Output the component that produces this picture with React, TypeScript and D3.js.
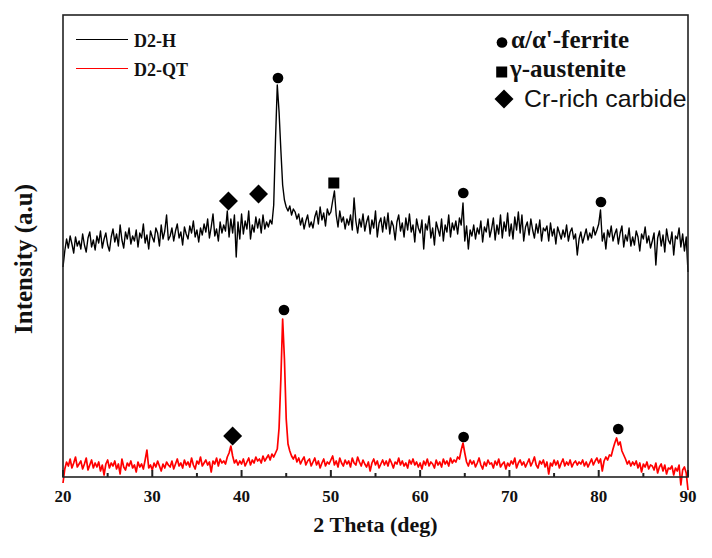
import * as d3 from 'd3';

// XRD scan grid: 20–90 deg, 0.2 deg step
const thetaStart = 20;
const thetaStep = 0.2;

// D2-H intensity (a.u.), one row = 2 deg
const d2H = [
  210, 226, 238, 229, 241, 233, 224, 240, 231, 236,
  228, 243, 232, 225, 239, 245, 230, 237, 227, 241,
  234, 246, 229, 238, 244, 232, 226, 240, 248, 235,
  243, 231, 252, 237, 229, 245, 238, 249, 233, 241,
  236, 247, 230, 244, 239, 253, 234, 242, 228, 246,
  240, 235, 249, 244, 231, 252, 238, 246, 262, 237,
  241, 249, 236, 246, 253, 239, 245, 232, 250, 243,
  238, 251, 244, 256, 240, 247, 235, 249, 242, 253,
  245, 258, 239, 250, 263, 241, 248, 236, 255, 244,
  252, 246, 266, 240, 258, 244, 262, 220, 255, 238,
  263, 243, 256, 248, 266, 238, 252, 245, 260, 249,
  258, 244, 262, 248, 255, 250, 257, 253, 272, 337,
  392, 365, 327, 292, 277, 270, 266, 271, 262, 268,
  265, 258, 263, 252, 259, 248, 256, 262, 250, 255,
  249, 260, 266, 253, 270, 257, 264, 251, 268, 262,
  265, 276, 286, 262, 250, 266, 255, 260, 248, 258,
  252, 262, 247, 279, 256, 244, 258, 250, 263, 246,
  255, 261, 243, 257, 249, 266, 240, 254, 259, 245,
  260, 248, 264, 243, 256, 251, 237, 255, 262, 246,
  254, 240, 259, 247, 263, 245, 252, 235, 258, 249,
  244, 257, 228, 253, 247, 261, 239, 249, 232, 255,
  248, 241, 258, 236, 252, 245, 262, 240, 254, 247,
  256, 243, 259, 252, 274, 236, 251, 228, 247, 241,
  252, 238, 249, 243, 256, 235, 250, 245, 258, 240,
  248, 259, 237, 252, 243, 262, 239, 255, 246, 264,
  241, 253, 238, 260, 247, 265, 244, 262, 236, 250,
  255, 242, 258, 247, 239, 253, 244, 257, 236, 249,
  246, 251, 236, 254, 241, 248, 233, 250, 244, 238,
  247, 240, 252, 236, 245, 249, 238, 243, 222, 238,
  245, 234, 241, 248, 237, 244, 239, 250, 242, 247,
  253, 267, 236, 244, 228, 247, 240, 251, 236, 243,
  248, 233, 244, 251, 230, 242, 236, 249, 231, 240,
  232, 246, 240, 226, 243, 238, 250, 234, 241, 229,
  236, 244, 212, 239, 246, 231, 242, 225, 248, 237,
  233, 245, 222, 241, 238, 249, 230, 243, 226, 240,
  205,
];

// D2-QT intensity (a.u.)
const d2QT = [
  -6, 8, 15, 11, 18, 9, 14, 20, 10, 13,
  16, 8, 13, 19, 7, 12, 17, 9, 14, 10,
  15, 6, 12, 2, 13, 17, 9, 14, 11, 16,
  8, 13, 3, 18, 10, 7, 14, 11, 16, 9,
  12, 5, 15, 10, 13, 8, 17, 27, 9, 12,
  7, 14, 10, 16, 11, 6, 13, 9, 15, 12,
  10, 16, 8, 13, 18, 11, 14, 9, 17, 12,
  15, 10, 19, 12, 8, 16, 13, 20, 11, 14,
  17, 12, 15, 5, 16, 13, 19, 11, 18, 14,
  16, 13, 20, 24, 31, 21, 14, 17, 12, 16,
  13, 18, 11, 15, 19, 12, 17, 14, 20, 16,
  18, 14, 21, 16, 19, 22, 17, 23, 20, 24,
  28, 49, 98, 158, 118, 58, 33, 26, 21, 18,
  22, 15, 19, 13, 17, 20, 12, 16, 18, 11,
  15, 19, 12, 16, 9, 14, 18, 11, 15, 13,
  17, 21, 12, 16, 10, 19, 14, 11, 17, 13,
  16, 10, 19, 14, 12, 20, 15, 11, 17, 13,
  10, 15, 6, 14, 18, 12, 16, 9, 13, 17,
  12, 16, 11, 18, 14, 9, 15, 13, 19, 12,
  16, 11, 14, 9, 17, 13, 18, 12, 15, 10,
  14, 8, 16, 12, 18, 11, 15, 13, 9, 17,
  12, 15, 10, 18, 13, 16, 11, 19, 14, 17,
  15, 20, 18, 27, 34, 24, 15, 11, 17, 13,
  16, 10, 14, 19, 12, 8, 15, 11, 17, 13,
  14, 9, 16, 12, 18, 10, 13, 15, 8, 14,
  11, 16, 13, 19, 9, 14, 17, 12, 15, 10,
  14, 18, 11, 15, 20, 12, 9, 16, 13, 17,
  10, 15, 3, 14, 11, 17, 12, 16, 9, 14,
  18, 11, 15, 12, 17, 10, 14, 16, 12, 15,
  13, 17, 11, 15, 10, 14, 18, 12, 16, 19,
  14, 18, 6, 16, 20, 17, 22, 21, 28, 34,
  39, 32, 35, 26, 22, 18, 13, 16, 11, 15,
  12, 16, 9, 14, 5, 13, 10, 15, 8, 12,
  11, 7, 14, 4, 10, 13, 6, 12, 3, 9,
  8, 11, 2, 9, 6, 12, -8, 7, 10, 4,
  -13,
];

const seriesNames = ['D2-H', 'D2-QT'];
const seriesColors = ['#000000', '#ff0000'];
const seriesWidths = [1.4, 1.7];

// peak marks: [2theta, intensity]
const ferriteMarks = [[44.08, 399], [64.83, 284], [80.25, 275], [44.75, 167], [64.87, 40], [82.19, 48]];
const austeniteMarks = [[50.33, 294]];
const carbideMarks = [[38.53, 276], [41.9, 283], [39.0, 41]];

const phaseNames = ["α/α'-ferrite", 'γ-austenite', 'Cr-rich carbide'];

const xTicks = [20, 30, 40, 50, 60, 70, 80, 90];
const xMinorTicks = [25, 35, 45, 55, 65, 75, 85];

const width = 712;
const height = 558;
const margin = { top: 15, right: 24, bottom: 81, left: 63 };
const innerW = width - margin.left - margin.right;
const innerH = height - margin.top - margin.bottom;

const serif = '"Liberation Serif", "Times New Roman", serif';
const sans = '"Liberation Sans", Arial, sans-serif';

export default function App() {
  const x = d3.scaleLinear().domain([20, 90]).range([0, innerW]);
  const y = d3.scaleLinear().domain([0, 462]).range([innerH, 0]);

  const line = d3
    .line<number>()
    .x((_, i) => x(thetaStart + i * thetaStep))
    .y((d) => y(d));

  const circle = d3.symbol(d3.symbolCircle, 90)();
  const square = d3.symbol(d3.symbolSquare, 121)();
  const diamond = d3.symbol(d3.symbolSquare, 180)();

  return (
    <div style={{ position: 'absolute', left: 0, top: 0, background: '#fff' }}>
      <svg width={width} height={height} style={{ display: 'block' }}>
        <rect width={width} height={height} fill="#fff" />
        <g transform={`translate(${margin.left},${margin.top})`}>
          {[d2H, d2QT].map((s, k) => (
            <path
              key={k}
              d={line(s) ?? ''}
              fill="none"
              stroke={seriesColors[k]}
              strokeWidth={seriesWidths[k]}
              strokeLinejoin="round"
            />
          ))}

          {ferriteMarks.map(([t, v], i) => (
            <path key={`f${i}`} d={circle ?? ''} transform={`translate(${x(t)},${y(v)})`} fill="#000" />
          ))}
          {austeniteMarks.map(([t, v], i) => (
            <path key={`a${i}`} d={square ?? ''} transform={`translate(${x(t)},${y(v)})`} fill="#000" />
          ))}
          {carbideMarks.map(([t, v], i) => (
            <path key={`c${i}`} d={diamond ?? ''} transform={`translate(${x(t)},${y(v)}) rotate(45)`} fill="#000" />
          ))}

          {/* frame */}
          <rect x={0} y={0} width={innerW} height={innerH} fill="none" stroke="#222" strokeWidth={1.6} />

          {/* bottom ticks, inward */}
          {xTicks.map((t) => (
            <line key={`M${t}`} x1={x(t)} x2={x(t)} y1={innerH} y2={innerH - 7} stroke="#222" strokeWidth={2} />
          ))}
          {xMinorTicks.map((t) => (
            <line key={`m${t}`} x1={x(t)} x2={x(t)} y1={innerH} y2={innerH - 4} stroke="#222" strokeWidth={2} />
          ))}
          {xTicks.map((t) => (
            <text
              key={`l${t}`}
              x={x(t)}
              y={innerH + 25}
              textAnchor="middle"
              fontFamily={serif}
              fontWeight="bold"
              fontSize={17}
              fill="#111"
            >
              {t}
            </text>
          ))}

          <text
            x={innerW / 2}
            y={innerH + 55}
            textAnchor="middle"
            fontFamily={serif}
            fontWeight="bold"
            fontSize={22}
            fill="#111"
          >
            2 Theta (deg)
          </text>
        </g>

        <text
          transform="translate(32,259) rotate(-90)"
          textAnchor="middle"
          fontFamily={serif}
          fontWeight="bold"
          fontSize={25}
          fill="#111"
        >
          Intensity (a.u)
        </text>

        {/* series legend */}
        {seriesNames.map((n, k) => (
          <g key={n} transform={`translate(76,${39.5 + k * 29})`}>
            <line x1={0} x2={52} y1={0} y2={0} stroke={seriesColors[k]} strokeWidth={1.2} />
            <text x={58} y={7.5} fontFamily={serif} fontWeight="bold" fontSize={18} fill="#111">
              {n}
            </text>
          </g>
        ))}

        {/* phase legend */}
        <path d={circle ?? ''} transform="translate(502,42.5)" fill="#000" />
        <text x={511} y={48} fontFamily={serif} fontWeight="bold" fontSize={25} fill="#111">
          {phaseNames[0]}
        </text>
        <path d={square ?? ''} transform="translate(501.7,72)" fill="#000" />
        <text x={510} y={77} fontFamily={serif} fontWeight="bold" fontSize={25} fill="#111">
          {phaseNames[1]}
        </text>
        <path d={diamond ?? ''} transform="translate(504,99) rotate(45)" fill="#000" />
        <text x={524} y={107} fontFamily={sans} fontSize={24.8} fill="#111">
          {phaseNames[2]}
        </text>
      </svg>
    </div>
  );
}
